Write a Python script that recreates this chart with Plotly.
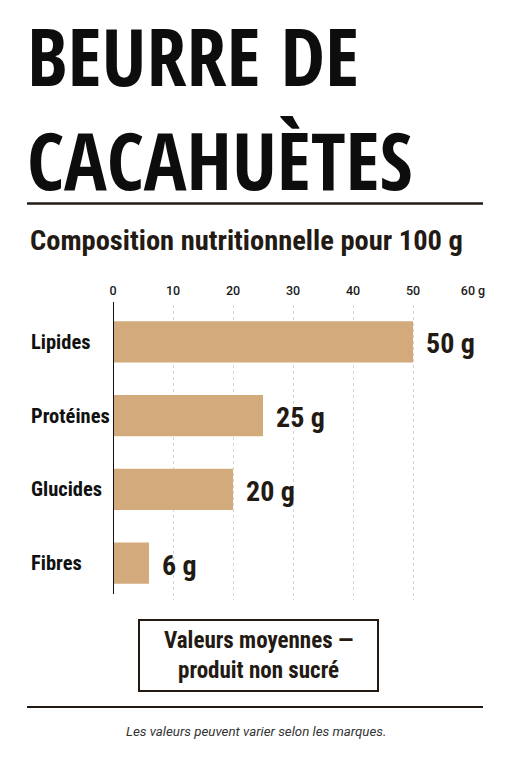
import plotly.graph_objects as go

W, H = 511, 768

title_lines = ["BEURRE DE", "CACAHUÈTES"]
subtitle = "Composition nutritionnelle pour 100 g"
categories = ["Lipides", "Protéines", "Glucides", "Fibres"]
values = [50, 25, 20, 6]
value_labels = ["50 g", "25 g", "20 g", "6 g"]
tick_vals = [0, 10, 20, 30, 40, 50, 60]
tick_text = ["0", "10", "20", "30", "40", "50", "60 g"]
box_lines = ["Valeurs moyennes —", "produit non sucré"]
footnote = "Les valeurs peuvent varier selon les marques."

HEAVY = "Open Sans Condensed, Roboto Condensed, sans-serif"
COND = "Roboto Condensed, Open Sans Condensed, sans-serif"
SANS = "Roboto, Liberation Sans, Arial, sans-serif"
DARK = "#231a14"
BAR = "#d3aa7c"


def px(x):
    return x / W


def py(y):
    return 1 - y / H


fig = go.Figure()
fig.add_trace(go.Bar(
    x=values, y=categories, orientation="h",
    marker=dict(color=BAR, line=dict(width=0)),
    width=0.56, hoverinfo="skip",
))

ann = []
ann.append(dict(text="<br>".join(title_lines), x=px(25), y=py(107), xref="paper", yref="paper",
                xanchor="left", yanchor="middle", showarrow=False, align="left",
                font=dict(family=HEAVY, size=80, weight=700, color="#0d0d0d")))
ann.append(dict(text=subtitle, x=px(28), y=py(240), xref="paper", yref="paper",
                xanchor="left", yanchor="middle", showarrow=False,
                font=dict(family=COND, size=28.5, weight=700, color=DARK)))
for c in categories:
    ann.append(dict(text=c, x=px(29), y=c, xref="paper", yref="y",
                    xanchor="left", yanchor="middle", showarrow=False,
                    font=dict(family=COND, size=20.5, weight=700, color="#111")))
for c, v, lab in zip(categories, values, value_labels):
    ann.append(dict(text=lab, x=v, y=c, xref="x", yref="y",
                    xanchor="left", yanchor="middle", xshift=11, yshift=-2, showarrow=False,
                    font=dict(family=COND, size=28, weight=700, color=DARK)))
ann.append(dict(text=box_lines[0] + "<br>" + box_lines[1], x=px(258.5), y=py(655),
                xref="paper", yref="paper", xanchor="center", yanchor="middle", showarrow=False,
                font=dict(family=COND, size=23, weight=700, color=DARK)))
ann.append(dict(text=f"<i>{footnote}</i>", x=px(256), y=py(731), xref="paper", yref="paper",
                xanchor="center", yanchor="middle", showarrow=False,
                font=dict(family=SANS, size=13.3, color="#333")))

shapes = [
    dict(type="line", xref="paper", yref="paper", x0=px(27), x1=px(483), y0=py(203.5), y1=py(203.5),
         line=dict(color=DARK, width=2.5)),
    dict(type="line", xref="paper", yref="paper", x0=px(27), x1=px(483), y0=py(707), y1=py(707),
         line=dict(color=DARK, width=2)),
    dict(type="rect", xref="paper", yref="paper", x0=px(139), x1=px(378), y0=py(620), y1=py(691),
         line=dict(color=DARK, width=2)),
    dict(type="line", xref="x", yref="paper", x0=0, x1=0, y0=py(302), y1=py(594),
         line=dict(color="#111", width=2)),
]

fig.update_layout(
    width=W, height=H, margin=dict(l=0, r=0, t=0, b=0, autoexpand=False),
    paper_bgcolor="white", plot_bgcolor="white",
    showlegend=False, annotations=ann, shapes=shapes,
    xaxis=dict(domain=[px(113), px(473)], range=[0, 60], side="top",
               tickvals=tick_vals, ticktext=tick_text, showgrid=True,
               gridcolor="#d6d6d6", griddash="dot", gridwidth=1,
               zeroline=False, showline=False, ticks="", ticklabelstandoff=7,
               tickfont=dict(family=SANS, size=12.5, weight=500, color="#1a1a1a"), fixedrange=True),
    yaxis=dict(domain=[py(600), py(305)], range=[3.5, -0.5], categoryorder="array",
               categoryarray=categories, showticklabels=False, showgrid=False,
               zeroline=False, showline=False, ticks="", fixedrange=True),
)

fig.write_html("out.html")
